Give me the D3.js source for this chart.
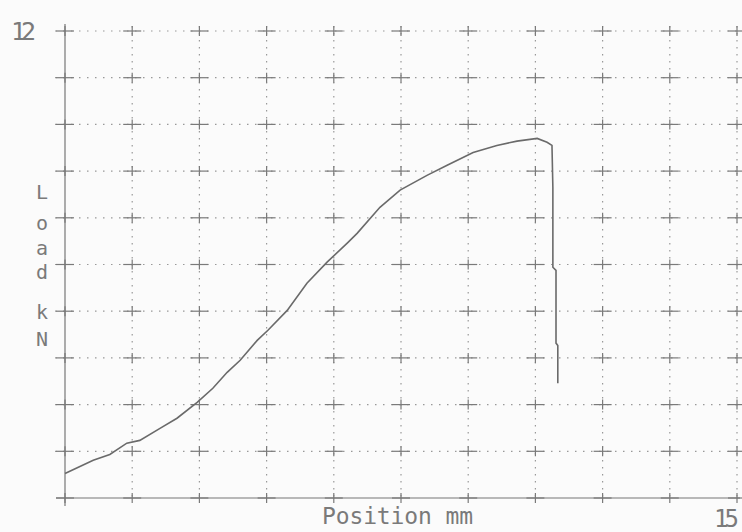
<!DOCTYPE html>
<html>
<head>
<meta charset="utf-8">
<script src="https://cdn.jsdelivr.net/npm/d3@7"></script>
<style>
  html, body { margin: 0; padding: 0; background: #fbfbfb; }
  text { font-family: "DejaVu Sans Mono", monospace; fill: #7a7a7a; }
</style>
</head>
<body>
<div id="chart"></div>
<script>
// tick positions (mm and kN)
const xTicks = [0, 1.5, 3, 4.5, 6, 7.5, 9, 10.5, 12, 13.5, 15];
const yTicks = [0, 1.2, 2.4, 3.6, 4.8, 6, 7.2, 8.4, 9.6, 10.8, 12];

// load curve
const position = [0, 0.63, 1.0, 1.38, 1.67, 2.12, 2.5, 2.95, 3.3, 3.62, 3.91, 4.29, 4.53, 4.96, 5.4, 5.85, 6.3, 6.52, 7.03, 7.48, 8.08, 8.53, 9.11, 9.64, 10.09, 10.54, 10.76, 10.87, 10.89, 10.89, 10.96, 10.96, 11.0, 11.0];
const load     = [0.63, 0.97, 1.12, 1.41, 1.48, 1.79, 2.05, 2.46, 2.82, 3.23, 3.54, 4.05, 4.31, 4.82, 5.52, 6.06, 6.55, 6.8, 7.47, 7.91, 8.29, 8.55, 8.88, 9.06, 9.17, 9.24, 9.14, 9.06, 7.98, 5.93, 5.85, 3.98, 3.92, 2.95];

const W = 742, H = 532;
const svg = d3.select("#chart").append("svg")
  .attr("width", W)
  .attr("height", H);

const x = d3.scaleLinear().domain([0, 15]).range([65, 737]);
const y = d3.scaleLinear().domain([0, 12]).range([498, 31]);

const grid = svg.append("g");

// dotted grid
grid.selectAll(".hgrid")
  .data(yTicks.slice(1))
  .enter().append("line")
  .attr("x1", 55).attr("x2", 740)
  .attr("y1", d => y(d)).attr("y2", d => y(d))
  .attr("stroke", "#999")
  .attr("stroke-width", 1.2)
  .attr("stroke-dasharray", "1.5,6.5");

grid.selectAll(".vgrid")
  .data(xTicks.slice(1))
  .enter().append("line")
  .attr("x1", d => x(d)).attr("x2", d => x(d))
  .attr("y1", 26).attr("y2", 498)
  .attr("stroke", "#999")
  .attr("stroke-width", 1.2)
  .attr("stroke-dasharray", "1.5,5.5");

// small crosses on every grid crossing
const cross = [];
xTicks.forEach(a => yTicks.forEach(b => cross.push([a, b])));
grid.selectAll(".ch")
  .data(cross)
  .enter().append("line")
  .attr("x1", d => x(d[0]) - 9).attr("x2", d => x(d[0]) + 9)
  .attr("y1", d => y(d[1])).attr("y2", d => y(d[1]))
  .attr("stroke", "#7a7a7a").attr("stroke-width", 1.2);
grid.selectAll(".cv")
  .data(cross)
  .enter().append("line")
  .attr("x1", d => x(d[0])).attr("x2", d => x(d[0]))
  .attr("y1", d => y(d[1]) - 5).attr("y2", d => y(d[1]) + 5)
  .attr("stroke", "#7a7a7a").attr("stroke-width", 1.2);

// axis lines
grid.append("line")
  .attr("x1", x(0)).attr("x2", x(0))
  .attr("y1", 24).attr("y2", 506)
  .attr("stroke", "#777").attr("stroke-width", 1.2);
grid.append("line")
  .attr("x1", 56).attr("x2", 740)
  .attr("y1", y(0)).attr("y2", y(0))
  .attr("stroke", "#777").attr("stroke-width", 1.2);

// the curve
const line = d3.line()
  .x((d, i) => x(position[i]))
  .y(d => y(d));

svg.append("path")
  .datum(load)
  .attr("fill", "none")
  .attr("stroke", "#6a6a6a")
  .attr("stroke-width", 1.6)
  .attr("d", line);

// labels
svg.append("text")
  .attr("x", 11).attr("y", 40)
  .attr("font-size", 25)
  .attr("textLength", 25)
  .text("12");

svg.append("text")
  .attr("x", 714).attr("y", 527)
  .attr("font-size", 24)
  .attr("textLength", 25)
  .text("15");

svg.append("text")
  .attr("x", 322).attr("y", 524)
  .attr("font-size", 23)
  .attr("textLength", 151)
  .text("Position mm");

const yLetters = ["L", "o", "a", "d", "k", "N"];
const yBase = [199, 230, 255, 279, 319, 346];
svg.selectAll(".ylab")
  .data(yLetters)
  .enter().append("text")
  .attr("x", 42)
  .attr("y", (d, i) => yBase[i])
  .attr("text-anchor", "middle")
  .attr("font-size", 20)
  .text(d => d);
</script>
</body>
</html>
